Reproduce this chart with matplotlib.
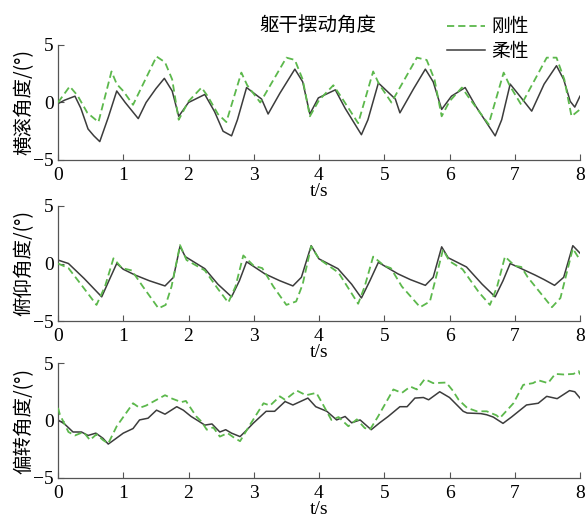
import matplotlib
matplotlib.use("Agg")
import matplotlib.pyplot as plt

plt.rcParams["font.family"] = ["Liberation Serif", "Noto Sans CJK SC"]
plt.rcParams["axes.unicode_minus"] = True

# roll angle (横滚)
roll_rigid_t = [0, 0.18, 0.3, 0.45, 0.62, 0.82, 0.9, 1.0, 1.15, 1.51, 1.64, 1.75, 1.85, 2.0,
                2.2, 2.3, 2.45, 2.58, 2.81, 2.9, 3.1, 3.5, 3.63, 3.75, 3.86, 4.0, 4.22, 4.35,
                4.6, 4.83, 4.92, 5.11, 5.5, 5.65, 5.77, 5.88, 6.0, 6.19, 6.3, 6.6, 6.83, 6.92,
                7.1, 7.49, 7.64, 7.76, 7.87, 8.0]
roll_rigid = [0.0, 1.4, 0.6, -0.9, -1.7, 2.7, 1.6, 1.0, -0.2, 4.0, 3.5, 2.0, -1.5, 0.1,
              1.3, 0.5, -1.0, -1.7, 2.6, 1.5, 0.0, 3.9, 3.7, 2.0, -1.2, 0.2, 1.5, 0.4,
              -1.8, 2.7, 1.6, 0.0, 3.9, 3.7, 2.0, -1.2, 0.1, 1.3, 0.4, -1.9, 2.6, 1.5,
              -0.2, 3.9, 3.9, 2.0, -1.2, -0.6]
roll_flex_t = [0, 0.1, 0.26, 0.35, 0.46, 0.55, 0.64, 0.77, 0.9, 1.03, 1.23, 1.35, 1.5, 1.63,
               1.75, 1.85, 2.0, 2.25, 2.4, 2.53, 2.66, 2.75, 2.89, 3.12, 3.22, 3.4, 3.63,
               3.75, 3.86, 3.99, 4.25, 4.4, 4.65, 4.75, 4.91, 5.17, 5.24, 5.45, 5.63, 5.75,
               5.88, 6.03, 6.24, 6.4, 6.7, 6.8, 6.93, 7.1, 7.26, 7.45, 7.64, 7.75, 7.85,
               7.92, 8.0]
roll_flex = [-0.1, 0.2, 0.55, -0.5, -2.3, -2.9, -3.4, -1.3, 1.0, 0.0, -1.4, 0.0, 1.2, 2.1,
             1.0, -1.2, 0.0, 0.7, -0.8, -2.5, -2.9, -1.5, 1.3, 0.3, -1.0, 0.8, 2.9,
             1.8, -1.0, 0.4, 1.1, -0.5, -2.8, -1.5, 1.7, 0.3, -0.9, 1.2, 2.9, 1.8,
             -0.6, 0.55, 1.3, -0.3, -2.9, -1.5, 1.6, 0.4, -0.75, 1.6, 3.2, 2.0, 0.1,
             -0.4, 0.55]

# pitch angle (俯仰)
pitch_rigid_t = [0, 0.16, 0.35, 0.59, 0.72, 0.85, 0.98, 1.13, 1.3, 1.54, 1.65, 1.74, 1.87,
                 1.97, 2.25, 2.45, 2.61, 2.72, 2.84, 3.0, 3.13, 3.3, 3.5, 3.65, 3.75, 3.88,
                 4.0, 4.3, 4.6, 4.7, 4.83, 5.0, 5.1, 5.27, 5.55, 5.7, 5.9, 6.0, 6.2, 6.45,
                 6.62, 6.73, 6.85, 7.0, 7.1, 7.2, 7.57, 7.7, 7.89, 8.0]
pitch_rigid = [0.0, -0.4, -1.8, -3.6, -2.0, 0.45, -0.4, -0.6, -2.0, -3.9, -3.6, -2.0, 1.6,
               0.3, -0.6, -2.2, -3.4, -2.0, 0.7, -0.2, -0.4, -2.0, -3.6, -3.3, -1.8, 1.5,
               0.4, -0.8, -3.5, -2.0, 0.6, -0.2, -0.4, -2.0, -3.8, -3.3, 1.2, 0.2, -0.5,
               -2.5, -3.6, -2.0, 0.6, -0.2, -0.3, -1.2, -3.8, -3.0, 1.3, 0.3]
pitch_flex_t = [0, 0.16, 0.4, 0.67, 0.78, 0.9, 1.0, 1.18, 1.4, 1.64, 1.77, 1.87, 1.95, 2.25,
                2.45, 2.66, 2.78, 2.89, 3.17, 3.4, 3.6, 3.73, 3.88, 4.0, 4.29, 4.5, 4.65,
                4.78, 4.91, 5.21, 5.4, 5.63, 5.75, 5.88, 5.98, 6.26, 6.5, 6.7, 6.82, 6.93,
                7.31, 7.45, 7.61, 7.75, 7.89, 8.0]
pitch_flex = [0.3, 0.0, -1.3, -2.9, -1.5, 0.0, -0.5, -1.0, -1.5, -1.95, -1.2, 1.5, 0.6,
              -0.45, -1.8, -2.9, -1.5, 0.15, -0.9, -1.5, -1.95, -1.2, 1.55, 0.4, -0.45,
              -1.8, -3.0, -1.5, 0.1, -0.9, -1.4, -1.9, -1.2, 1.45, 0.5, -0.3, -1.8, -2.9,
              -1.5, 0.0, -1.0, -1.4, -1.9, -1.2, 1.55, 0.9]

# yaw angle (偏转)
yaw_rigid_t = [0, 0.03, 0.16, 0.26, 0.39, 0.49, 0.59, 0.69, 0.77, 0.9, 1.15, 1.25, 1.35,
               1.64, 1.75, 1.89, 1.96, 2.12, 2.2, 2.28, 2.38, 2.48, 2.6, 2.7, 2.79, 2.95,
               3.15, 3.25, 3.4, 3.48, 3.66, 3.8, 3.96, 4.05, 4.19, 4.3, 4.45, 4.58, 4.7,
               4.78, 4.9, 5.14, 5.27, 5.4, 5.5, 5.62, 5.75, 5.95, 6.05, 6.14, 6.27, 6.42,
               6.57, 6.72, 6.77, 6.98, 7.13, 7.28, 7.36, 7.51, 7.62, 7.75, 7.9, 7.98, 8.0]
yaw_rigid = [1.1, 0.5, -1.0, -1.3, -1.0, -1.7, -1.2, -1.7, -2.0, -0.5, 1.5, 1.1, 1.3,
             2.2, 1.9, 1.6, 1.7, 0.35, -0.1, -0.8, -0.6, -1.4, -1.1, -1.5, -1.8, -0.3,
             1.5, 1.3, 2.1, 1.8, 2.6, 2.2, 2.4, 1.5, 0.05, 0.3, -0.5, 0.1, -0.65,
             -0.8, 0.3, 2.7, 2.4, 2.95, 2.7, 3.6, 3.25, 3.3, 2.6, 1.8, 1.1, 0.8,
             0.8, 0.45, 0.2, 1.5, 3.1, 3.25, 3.5, 3.25, 4.05, 4.0, 4.05, 4.3, 4.0]
yaw_flex_t = [0, 0.1, 0.23, 0.36, 0.46, 0.58, 0.69, 0.77, 0.88, 1.0, 1.15, 1.25, 1.38,
              1.51, 1.64, 1.82, 1.92, 2.04, 2.14, 2.25, 2.36, 2.48, 2.57, 2.66, 2.79,
              2.88, 2.99, 3.19, 3.32, 3.48, 3.6, 3.83, 3.95, 4.12, 4.27, 4.4, 4.5, 4.63,
              4.8, 4.93, 5.06, 5.24, 5.35, 5.47, 5.6, 5.68, 5.85, 6.0, 6.21, 6.27, 6.48,
              6.57, 6.67, 6.82, 6.95, 7.18, 7.36, 7.49, 7.65, 7.84, 7.92, 8.0]
yaw_flex = [0.05, -0.3, -1.0, -1.0, -1.3, -1.1, -1.55, -2.05, -1.6, -1.1, -0.7, 0.05, 0.2,
            0.9, 0.55, 1.2, 0.9, 0.35, 0.0, -0.4, -0.3, -1.0, -0.8, -1.1, -1.4,
            -0.9, -0.25, 0.8, 0.8, 1.65, 1.35, 1.95, 1.2, 0.8, 0.05, 0.35, -0.2, 0.05,
            -0.8, -0.2, 0.35, 1.2, 1.2, 1.95, 2.0, 1.8, 2.5, 2.0, 0.8, 0.65, 0.6,
            0.5, 0.3, -0.25, 0.3, 1.35, 1.5, 2.1, 1.9, 2.6, 2.5, 1.95]

ylabels = ["横滚角度/(°)", "俯仰角度/(°)", "偏转角度/(°)"]
series = [
    (roll_rigid_t, roll_rigid, roll_flex_t, roll_flex),
    (pitch_rigid_t, pitch_rigid, pitch_flex_t, pitch_flex),
    (yaw_rigid_t, yaw_rigid, yaw_flex_t, yaw_flex),
]

GREEN = "#5cb84c"
DARK = "#3c3c3c"
cjk = ["Noto Sans CJK SC", "Liberation Serif"]

W, H = 586, 519
fig = plt.figure(figsize=(W / 100, H / 100), dpi=100)

# axes boxes in pixels: top, bottom
boxes = [(45, 160), (206, 321), (363, 478)]
left, right = 58, 580

axes = []
for (top, bot), lab, (rt, rv, ft, fv) in zip(boxes, ylabels, series):
    ax = fig.add_axes([left / W, 1 - bot / H, (right - left) / W, (bot - top) / H])
    l1, = ax.plot(rt, rv, color=GREEN, lw=1.3, dashes=(4, 2.2), label="刚性", zorder=3)
    l2, = ax.plot(ft, fv, color=DARK, lw=1.1, label="柔性", zorder=2)
    ax.set_xlim(0, 8)
    ax.set_ylim(-5, 5)
    ax.set_xticks(range(0, 9))
    ax.set_yticks([-5, 0, 5])
    for s in ["top", "right"]:
        ax.spines[s].set_visible(False)
    for s in ["left", "bottom"]:
        ax.spines[s].set_color("#555555")
        ax.spines[s].set_linewidth(0.9)
    ax.tick_params(direction="in", length=4, width=0.8, color="#555555",
                   labelsize=14)
    ax.tick_params(axis="x", pad=5)
    ax.tick_params(axis="y", pad=3)
    ax.set_xlabel("t/s", fontsize=14, labelpad=-1)
    ax.set_ylabel(lab, fontsize=14, family=cjk)
    ax.yaxis.set_label_coords(-0.045, 0.5)
    axes.append(ax)

fig.text(0.543, 1 - 25 / H, "躯干摆动角度", ha="center", va="center",
         fontsize=14, family=cjk)

axes[0].legend(handles=[l1, l2], loc="center left",
               bbox_to_anchor=(447 / W, 1 - 39 / H), bbox_transform=fig.transFigure,
               frameon=False, borderpad=0, borderaxespad=0, handlelength=2.0,
               handletextpad=0.35, labelspacing=0.2, prop={"family": cjk, "size": 13.5})

fig.savefig("out.png", dpi=100)
